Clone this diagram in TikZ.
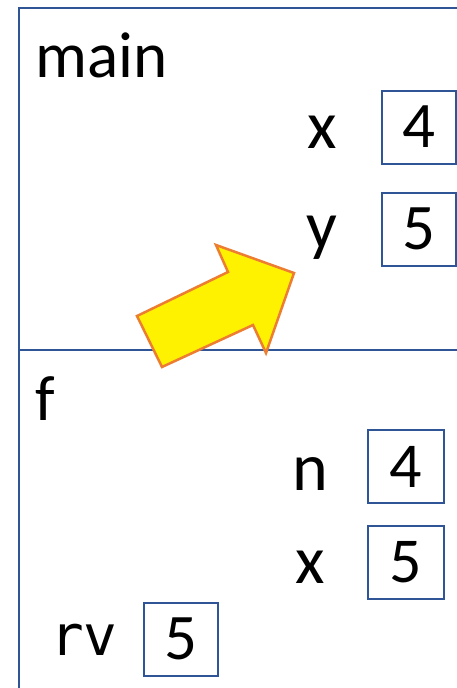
\documentclass[tikz,border=0pt]{standalone}
\usepackage{fontspec}
\setmainfont{Carlito}
\newfontfamily\rvfont{DejaVu Sans Mono}
\definecolor{framebl}{RGB}{47,85,151}
\definecolor{arroworg}{RGB}{237,125,49}
\tikzset{
  varname/.style={inner sep=0pt,anchor=base,font=\fontsize{#1}{#1}\selectfont},
  valbox/.style={draw=framebl,line width=2pt,inner sep=0pt,minimum width=74pt,
    minimum height=73pt,font=\fontsize{#1}{#1}\selectfont},
}
\begin{document}
\begin{tikzpicture}[x=1pt,y=-1pt]
\useasboundingbox (0,0) rectangle (457,688);
% frame lines:
\draw[framebl,line width=2.5pt] (457,8) -- (19,8) -- (19,688);
\draw[framebl,line width=2.5pt] (19,350) -- (457,350);
% frame main:
\node[varname=65,anchor=base west] (mainname) at (35,77) {main};
\node[varname=68] (mainx) at (322,148) {x};
\node[valbox=65] (mainxval) at (419,127) {4};
\node[varname=68] (mainy) at (322,248) {y};
\node[valbox=65] (mainyval) at (419,229) {5};
% frame f:
\node[varname=64,anchor=base west] (fname) at (35,420) {f};
\node[varname=68] (fn) at (310,490) {n};
\node[valbox=64,minimum width=76pt] (fnval) at (406,466.5) {4};
\node[varname=68] (fx) at (310,583) {x};
\node[valbox=64,minimum width=76pt] (fxval) at (406,562) {5};
\node[inner sep=0pt,anchor=base west,font=\rvfont\fontsize{56}{56}\selectfont] (rv) at (50,655) {rv};
\node[valbox=65] (rvval) at (181,639) {5};
% yellow arrow:
\path[fill=yellow,draw=arroworg,line width=2.5pt,line join=miter]
  (137,316) -- (228,272) -- (216,245) -- (294,273) -- (266,353) -- (253,325) -- (162,367) -- cycle;
\end{tikzpicture}
\end{document}
